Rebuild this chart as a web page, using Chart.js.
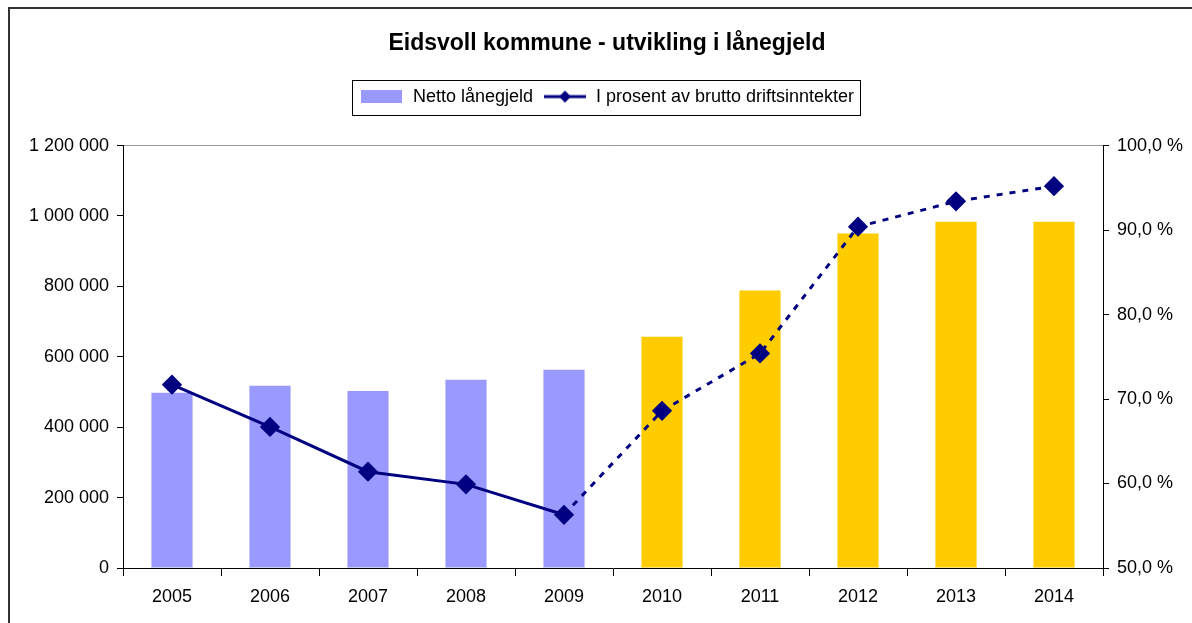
<!DOCTYPE html>
<html>
<head>
<meta charset="utf-8">
<title>Eidsvoll kommune - utvikling i lånegjeld</title>
<script src="https://cdn.jsdelivr.net/npm/chart.js@4.4.1/dist/chart.umd.min.js"></script>
<style>
    body { margin: 0; background: #fff; overflow: hidden; }
    #wrap { position: absolute; left: 0; top: 0; width: 1192px; height: 623px; }
    #frame {
        position: absolute; left: 8px; top: 7px; width: 1300px; height: 800px;
        border: 2px solid #333; pointer-events: none;
    }
</style>
</head>
<body>
<div id="wrap">
    <canvas id="gjeldChart" width="1192" height="623"></canvas>
</div>
<div id="frame"></div>

<script>
// ===================== DATA ===================== //
const years = ["2005", "2006", "2007", "2008", "2009", "2010", "2011", "2012", "2013", "2014"];
const nettoLanegjeld = [498000, 518000, 503000, 535000, 563000, 657000, 788000, 950000, 984000, 984000];
const prosentAvDrift = [71.7, 66.7, 61.4, 59.9, 56.3, 68.6, 75.4, 90.4, 93.4, 95.2];
const firstPlanYear = 5; // 2010 and later are plan figures (yellow, dashed)

const leftTicks = [0, 200000, 400000, 600000, 800000, 1000000, 1200000];
const rightTicks = [50, 60, 70, 80, 90, 100];

const PURPLE = "#9999FF";
const YELLOW = "#FFCC00";
const NAVY = "#000080";

Chart.defaults.font.family = "'Liberation Sans', Arial, sans-serif";
Chart.defaults.color = "#000";

// ===================== HELPERS ===================== //
function spaced(n) {
    return String(n).replace(/\B(?=(\d{3})+(?!\d))/g, " ");
}

function percentLabel(v) {
    return v.toFixed(1).replace(".", ",") + " %";
}

// legend swatches drawn on small canvases
function barSwatch() {
    const c = document.createElement("canvas");
    c.width = 41; c.height = 13;
    const g = c.getContext("2d");
    g.fillStyle = PURPLE;
    g.fillRect(0, 0, 41, 13);
    return c;
}

function lineSwatch() {
    const c = document.createElement("canvas");
    c.width = 42; c.height = 16;
    const g = c.getContext("2d");
    g.strokeStyle = NAVY;
    g.lineWidth = 3;
    g.beginPath();
    g.moveTo(0, 8); g.lineTo(42, 8);
    g.stroke();
    g.fillStyle = NAVY;
    g.beginPath();
    g.moveTo(21, 2); g.lineTo(27, 8); g.lineTo(21, 14); g.lineTo(15, 8);
    g.closePath();
    g.fill();
    return c;
}

// box round the legend, like the old spreadsheet chart
const legendFrame = {
    id: "legendFrame",
    afterDraw(chart) {
        const boxes = chart.legend.legendHitBoxes;
        if (!boxes || !boxes.length) return;
        const left = Math.min(...boxes.map(b => b.left));
        const right = Math.max(...boxes.map(b => b.left + b.width));
        const top = boxes[0].top;
        const h = boxes[0].height;
        const ctx = chart.ctx;
        ctx.save();
        ctx.strokeStyle = "#000";
        ctx.lineWidth = 1;
        ctx.strokeRect(Math.round(left - 8) + 0.5, Math.round(top - 8) + 0.5,
            Math.round(right - left + 14), Math.round(h + 17));
        ctx.restore();
    }
};

// ===================== CHART ===================== //
const ctx = document.getElementById("gjeldChart").getContext("2d");

const gjeldChart = new Chart(ctx, {
    data: {
        labels: years,
        datasets: [
            {
                type: "bar",
                label: "Netto lånegjeld",
                data: nettoLanegjeld,
                backgroundColor: years.map((y, i) => i < firstPlanYear ? PURPLE : YELLOW),
                barPercentage: 0.42,
                categoryPercentage: 1,
                yAxisID: "y",
                order: 1
            },
            {
                type: "line",
                label: "I prosent av brutto driftsinntekter",
                data: prosentAvDrift,
                borderColor: NAVY,
                backgroundColor: NAVY,
                borderWidth: 3,
                pointStyle: "rectRot",
                pointRadius: 8,
                pointHoverRadius: 8,
                tension: 0,
                yAxisID: "y1",
                order: 0,
                segment: {
                    borderDash: c => c.p0DataIndex >= firstPlanYear - 1 ? [6, 7] : undefined
                }
            }
        ]
    },
    options: {
        responsive: false,
        animation: false,
        layout: { padding: { top: 0, left: 22, right: 0, bottom: 0 } },
        plugins: {
            tooltip: { enabled: false },
            title: {
                display: true,
                text: "Eidsvoll kommune - utvikling i lånegjeld",
                font: { size: 23, weight: "bold" },
                color: "#000",
                padding: { top: 30, bottom: 20 }
            },
            // empty spacer between legend and plot
            subtitle: {
                display: true,
                text: "",
                weight: 500,
                font: { size: 10 },
                padding: { top: 18, bottom: 0 }
            },
            legend: {
                display: true,
                onClick: null,
                labels: {
                    usePointStyle: true,
                    pointStyleWidth: 44,
                    padding: 10,
                    font: { size: 18 },
                    color: "#000",
                    generateLabels: chart => [
                        { text: chart.data.datasets[0].label, pointStyle: barSwatch(), datasetIndex: 0,
                          fillStyle: PURPLE, strokeStyle: PURPLE, lineWidth: 0 },
                        { text: chart.data.datasets[1].label, pointStyle: lineSwatch(), datasetIndex: 1,
                          fillStyle: NAVY, strokeStyle: NAVY, lineWidth: 0 }
                    ]
                }
            }
        },
        scales: {
            x: {
                offset: true,
                grid: {
                    offset: true,
                    drawOnChartArea: false,
                    color: "#000",
                    tickColor: "#000",
                    tickLength: 8
                },
                border: { color: "#000", width: 1 },
                ticks: { font: { size: 18 }, padding: 10, maxRotation: 0 },
                afterFit: s => { s.height = 55; }
            },
            y: {
                position: "left",
                min: 0,
                max: 1200000,
                afterBuildTicks: s => { s.ticks = leftTicks.map(v => ({ value: v })); },
                grid: {
                    color: c => c.tick && c.tick.value === 1200000 ? "#999" : "transparent",
                    tickColor: "#000",
                    tickLength: 6
                },
                border: { color: "#000", width: 1 },
                ticks: { font: { size: 18 }, padding: 8, callback: v => spaced(v) },
                afterFit: s => { s.width = 101; }
            },
            y1: {
                position: "right",
                min: 50,
                max: 100,
                afterBuildTicks: s => { s.ticks = rightTicks.map(v => ({ value: v })); },
                grid: { drawOnChartArea: false, tickColor: "#000", tickLength: 6 },
                border: { color: "#000", width: 1 },
                ticks: { font: { size: 18 }, padding: 8, callback: v => percentLabel(v) },
                afterFit: s => { s.width = 89; }
            }
        }
    },
    plugins: [legendFrame]
});
</script>
</body>
</html>
